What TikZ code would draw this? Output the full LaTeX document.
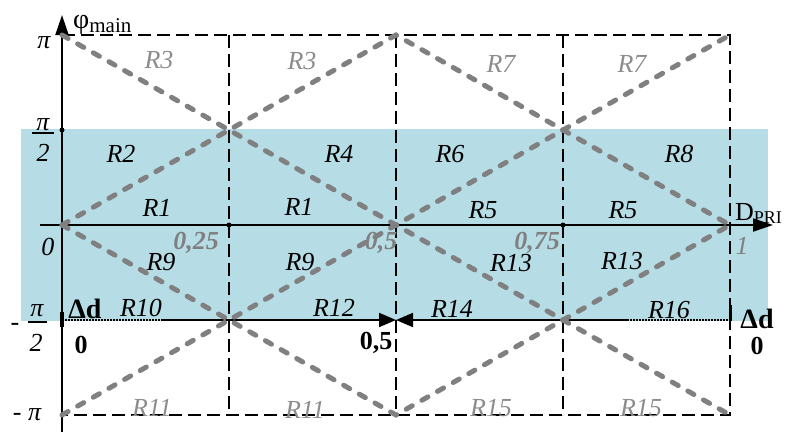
\documentclass[tikz,border=0pt]{standalone}
\usepackage{fontspec}
\setmainfont{Liberation Serif}
\usetikzlibrary{arrows.meta}
\definecolor{band}{RGB}{182,221,230}
\definecolor{gline}{RGB}{128,128,128}
\definecolor{gtext}{RGB}{140,140,140}
\begin{document}
\begin{tikzpicture}[x=1pt,y=-1pt,
 lab/.style={inner sep=0pt, font=\fontsize{26}{26}\selectfont\itshape},
 glab/.style={lab, text=gtext},
 num/.style={inner sep=0pt, font=\fontsize{26}{26}\selectfont\bfseries\itshape, text=gline},
 bnum/.style={inner sep=0pt, font=\fontsize{26}{26}\selectfont\bfseries},
 gridline/.style={black, line width=1.6pt, dash pattern=on 13pt off 6pt},
 zig/.style={gline, line width=5pt, line cap=round, dash pattern=on 7pt off 11pt},
 axisline/.style={black, line width=2pt},
 tipend/.style={-{Triangle[length=20pt,width=13pt]}},
 dotline/.style={black, line width=1.5pt, dash pattern=on 1.5pt off 1.5pt},
 dotmark/.style={circle, fill=black, inner sep=0pt, minimum size=5pt}
]
\useasboundingbox (0,0) rectangle (790,432);
% band
\fill[band] (21,129) rectangle (768,321);
% grid coordinates
\foreach \i/\x in {0/62,1/229,2/396,3/563,4/730}{
  \coordinate (t\i) at (\x,35);
  \coordinate (h\i) at (\x,130);
  \coordinate (z\i) at (\x,225);
  \coordinate (n\i) at (\x,320);
  \coordinate (b\i) at (\x,415);
}
% dashed grid
\draw[gridline] (t0) -- (t4) -- (b4) -- (b0);
\draw[gridline] (t1) -- (b1);
\draw[gridline] (t2) -- (b2);
\draw[gridline] (t3) -- (b3);
% axes
\coordinate (axbot) at (62,432);
\coordinate (axtop) at (62,15);
\coordinate (axleft) at (40,225);
\coordinate (axright) at (773,225);
\draw[axisline, tipend] (axbot) -- (axtop);
\draw[axisline, tipend] (axleft) -- (axright);
% -pi/2 line
\coordinate (dl) at (163,320);
\coordinate (dr) at (627,320);
\draw[dotline] (n0) -- (dl);
\draw[dotline] (dr) -- (n4);
\draw[axisline, -{Triangle[length=17pt,width=14pt]}] (dl) -- (n2);
\draw[axisline, -{Triangle[length=17pt,width=14pt]}] (dr) -- (n2);
\draw[black, line width=3.5pt] (62,312) -- (62,327);
\draw[black, line width=3pt] (730,305) -- (730,321);
% dots
\node[dotmark] (d1) at (h0) {};
\node[dotmark] (d2) at (z1) {};
\node[dotmark] (d3) at (z3) {};
% gray zigzags
\draw[zig] (t0) -- (b4);
\draw[zig] (b0) -- (t4);
\draw[zig] (z0) -- (t2) -- (z4);
\draw[zig] (z0) -- (b2) -- (z4);
% axis titles
\node[inner sep=0pt, anchor=base west] (phi) at (73,28) {\fontsize{28}{28}\selectfont φ\raisebox{-4pt}{\fontsize{21}{21}\selectfont main}};
\node[inner sep=0pt, anchor=base west] (dpri) at (735,220) {\fontsize{26}{26}\selectfont D\raisebox{-3pt}{\fontsize{18}{18}\selectfont PRI}};
% left tick labels
\node[lab] (lpi) at (44,43) {π};
\node[lab] (lpih) at (43,125) {π};
\coordinate (fb1) at (32,133);
\coordinate (fb2) at (54,133);
\draw[line width=1.3pt] (fb1) -- (fb2);
\node[lab] (l2h) at (43,153) {2};
\node[lab] (lzero) at (48,247) {0};
\node[lab] (lmh) at (15,327) {-};
\node[lab] (lpin) at (37,311) {π};
\coordinate (fc1) at (28,322);
\coordinate (fc2) at (47,322);
\draw[line width=1.3pt] (fc1) -- (fc2);
\node[lab] (l2n) at (36,343) {2};
\node[lab] (lmpi) at (27,415) {- π};
% axis numbers
\node[num] (n25) at (196,243) {0,25};
\node[num] (n50) at (381,243) {0,5};
\node[num] (n75) at (537,243) {0,75};
\node[lab, text=gline] (n100) at (742,246) {1};
% delta d labels
\node[bnum, anchor=base, font=\fontsize{28}{28}\selectfont\bfseries] (dd1) at (85,318) {Δd};
\node[bnum] (dz1) at (81,345) {0};
\node[bnum] (dh) at (376,343) {0,5};
\node[bnum, anchor=base, font=\fontsize{28}{28}\selectfont\bfseries] (dd2) at (757,328) {Δd};
\node[bnum] (dz2) at (757,346) {0};
% region labels
\node[glab] at (159,60) {R3};
\node[glab] at (302,61) {R3};
\node[glab] at (501,64) {R7};
\node[glab] at (632,64) {R7};
\node[lab] at (121,154) {R2};
\node[lab] at (339,154) {R4};
\node[lab] at (450,154) {R6};
\node[lab] at (679,154) {R8};
\node[lab] at (157,208) {R1};
\node[lab] at (299,207) {R1};
\node[lab] at (483,210) {R5};
\node[lab] at (623,210) {R5};
\node[lab] at (161,262) {R9};
\node[lab] at (300,262) {R9};
\node[lab] at (511,263) {R13};
\node[lab] at (622,261) {R13};
\node[lab] at (141,308) {R10};
\node[lab] at (334,308) {R12};
\node[lab] at (452,309) {R14};
\node[lab] at (669,310) {R16};
\node[glab] at (152,408) {R11};
\node[glab] at (305,410) {R11};
\node[glab] at (491,408) {R15};
\node[glab] at (641,408) {R15};
\end{tikzpicture}
\end{document}
